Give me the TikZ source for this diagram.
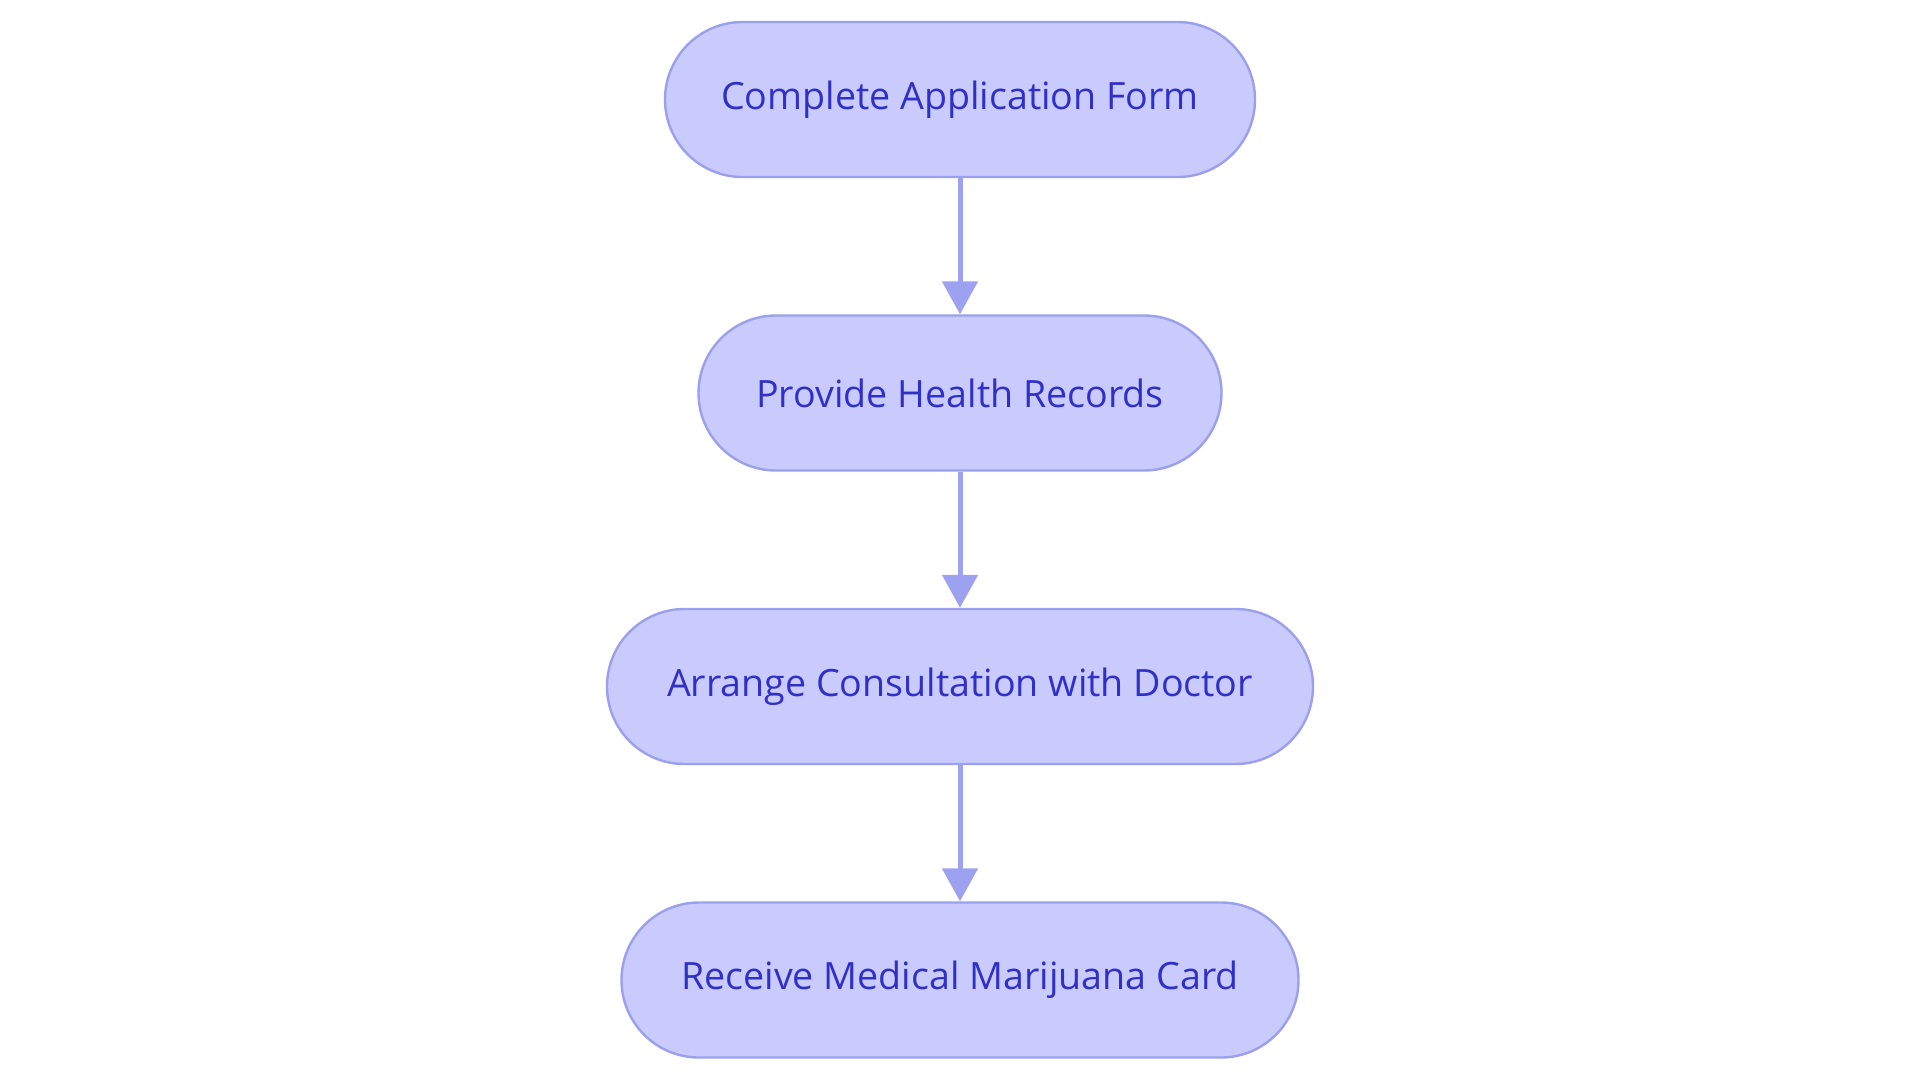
\documentclass[tikz,border=0pt]{standalone}
\usepackage{fontspec}
\setmainfont{Open Sans}
\usetikzlibrary{arrows.meta}
\definecolor{nodefill}{HTML}{CACBFD}
\definecolor{nodeline}{HTML}{9A9FEE}
\definecolor{nodetext}{HTML}{3030C8}
\definecolor{arrowcol}{HTML}{9CA1F0}
\begin{document}
\begin{tikzpicture}[x=0.5pt,y=-0.5pt,
  stepbox/.style={draw=nodeline, fill=nodefill, line width=1.2pt,
    rounded corners=38.75pt, minimum height=77.5pt, inner sep=0pt,
    text=nodetext, font=\fontsize{18.8pt}{22pt}\selectfont},
  flow/.style={draw=arrowcol, line width=2.5pt,
    -{Triangle[length=16.5pt,width=17.5pt]}}]
\useasboundingbox (0,0) rectangle (1920,1083);
\node[stepbox, minimum width=295pt] (a) at (960,99.5) {Complete Application Form};
\node[stepbox, minimum width=261.5pt] (b) at (960,393) {Provide Health Records};
\node[stepbox, minimum width=353pt] (c) at (960,686.5) {Arrange Consultation with Doctor};
\node[stepbox, minimum width=338.5pt] (d) at (960,980) {Receive Medical Marijuana Card};
\draw[flow] (a) -- (b);
\draw[flow] (b) -- (c);
\draw[flow] (c) -- (d);
\end{tikzpicture}
\end{document}
